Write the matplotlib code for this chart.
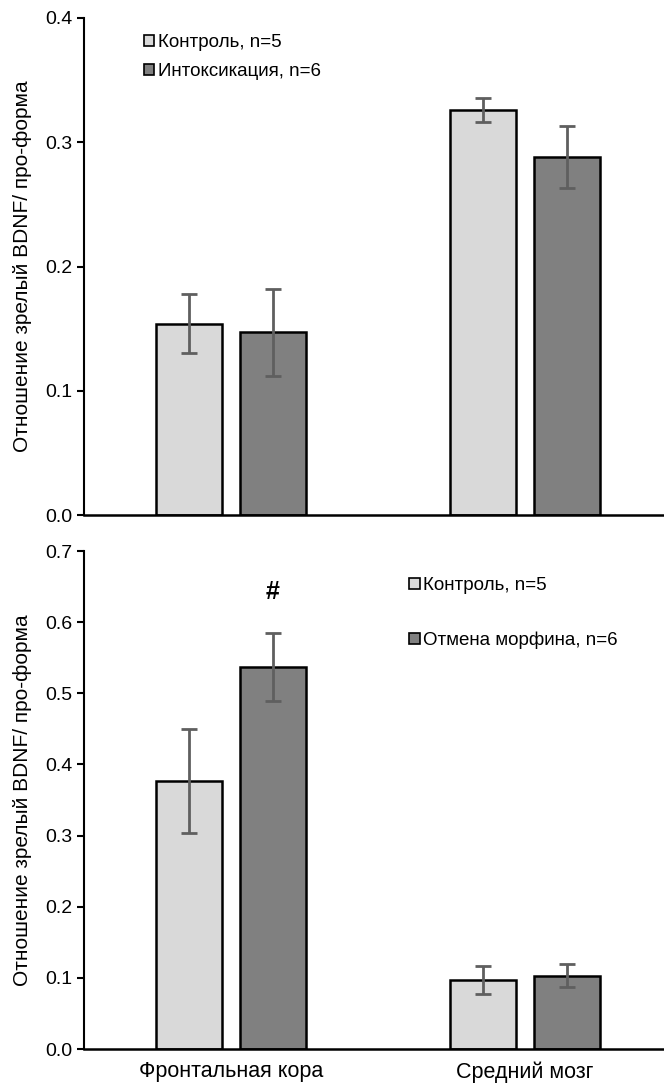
import numpy as np
import matplotlib.pyplot as plt
from matplotlib.patches import Patch
from matplotlib.ticker import FormatStrFormatter

plt.rcParams['font.family'] = ['Liberation Sans', 'DejaVu Sans']

regions = ['Фронтальная кора', 'Средний мозг']
ylabel = 'Отношение зрелый BDNF/ про-форма'

# top panel: control vs intoxication
top_labels = ['Контроль, n=5', 'Интоксикация, n=6']
top_ctrl = [0.154, 0.326]
top_ctrl_err = [0.024, 0.010]
top_intox = [0.147, 0.288]
top_intox_err = [0.035, 0.025]

# bottom panel: control vs morphine withdrawal
bot_labels = ['Контроль, n=5', 'Отмена морфина, n=6']
bot_ctrl = [0.377, 0.097]
bot_ctrl_err = [0.073, 0.019]
bot_withdr = [0.537, 0.103]
bot_withdr_err = [0.048, 0.016]

light = '#d9d9d9'
dark = '#808080'
errc = '#5f5f5f'

fig = plt.figure(figsize=(6.64, 10.88), dpi=100)
ax1 = fig.add_axes([84/664, 573/1088, 580/664, 497/1088])
ax2 = fig.add_axes([84/664, 39/1088, 580/664, 498/1088])

x = np.arange(len(regions))
w = 0.2245
off = 0.143


def panel(ax, a, aerr, b, berr, ymax, labels, legend_pos, spacing):
    ekw = dict(ecolor=errc, elinewidth=2, capsize=6, capthick=2)
    ax.bar(x - off, a, w, yerr=aerr, color=light, edgecolor='black',
           linewidth=1.8, error_kw=ekw, zorder=2)
    ax.bar(x + off, b, w, yerr=berr, color=dark, edgecolor='black',
           linewidth=1.8, error_kw=ekw, zorder=2)
    ax.set_xlim(-0.5, 1.473)
    ax.set_ylim(0, ymax)
    ax.set_yticks(np.arange(0, ymax + 0.001, 0.1))
    ax.yaxis.set_major_formatter(FormatStrFormatter('%.1f'))
    ax.tick_params(axis='y', labelsize=14, length=5, width=1.5, direction='out')
    ax.tick_params(axis='x', length=0, labelsize=15.5, pad=9)
    for s in ['top', 'right']:
        ax.spines[s].set_visible(False)
    ax.spines['left'].set_linewidth(1.5)
    ax.spines['bottom'].set_linewidth(1.8)
    ax.set_ylabel(ylabel, fontsize=15, labelpad=9)
    handles = [Patch(facecolor=light, edgecolor='black', linewidth=1.2),
               Patch(facecolor=dark, edgecolor='black', linewidth=1.2)]
    ax.legend(handles, labels, loc='upper left', bbox_to_anchor=legend_pos,
              frameon=False, fontsize=13.5, handlelength=0.55, handleheight=0.55,
              handletextpad=0.2, labelspacing=spacing, borderaxespad=0)


panel(ax1, top_ctrl, top_ctrl_err, top_intox, top_intox_err, 0.4,
      top_labels, (0.09, 0.983), 0.65)
ax1.set_xticks(x)
ax1.set_xticklabels([])

panel(ax2, bot_ctrl, bot_ctrl_err, bot_withdr, bot_withdr_err, 0.7,
      bot_labels, (0.548, 0.962), 2.0)
ax2.set_xticks(x)
ax2.set_xticklabels(regions)
ax2.text(x[0] + off, 0.643, '#', ha='center', va='center', fontsize=18,
         fontweight='bold')

fig.savefig('out.png', dpi=100)
